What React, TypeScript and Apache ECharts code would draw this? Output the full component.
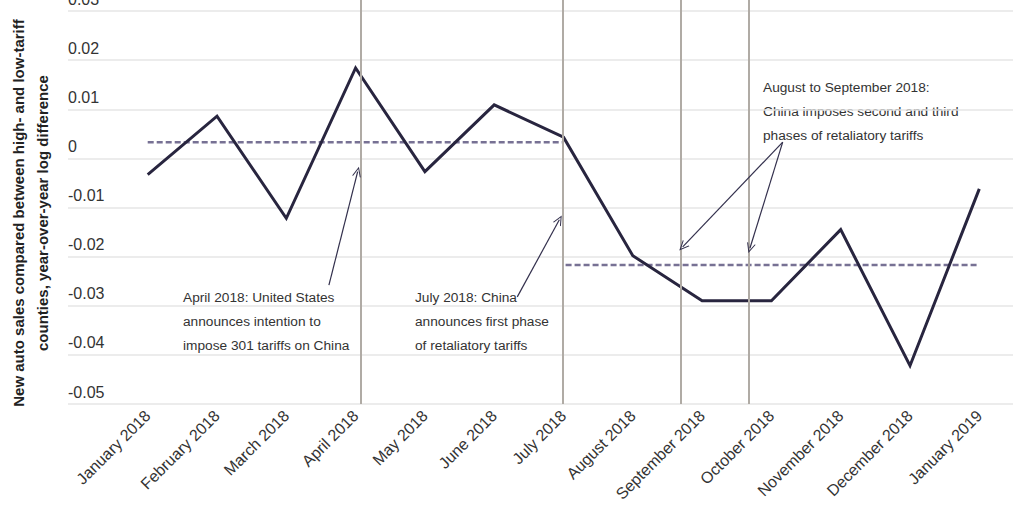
import React, { useEffect, useRef } from "react";
import * as echarts from "echarts";

const categories = [
  "January 2018", "February 2018", "March 2018", "April 2018", "May 2018", "June 2018",
  "July 2018", "August 2018", "September 2018", "October 2018", "November 2018",
  "December 2018", "January 2019",
];
const salesDiff = [
  -0.0033, 0.0086, -0.0122, 0.0184, -0.0027, 0.0109, 0.0043, -0.0198, -0.029, -0.029,
  -0.0145, -0.0422, -0.0062,
];
const avgStart = [0, 6.03];
const avgEnd = [6, 12];
const avgValue = [0.0033, -0.0217];
const eventMonths = [3.08, 5.99, 7.69, 8.68];
const yMin = -0.05;
const yMax = 0.03;
const yStep = 0.01;

const arrows = [
  { from: [2.615, -0.0258], to: [3.03, -0.0027] },
  { from: [5.333, -0.0282], to: [5.94, -0.0125] },
  { from: [9.163, 0.0033], to: [7.72, -0.018] },
  { from: [9.163, 0.0033], to: [8.69, -0.0183] },
];

const notes = [
  { x: 183, y: 297, lines: ["April 2018: United States", "announces intention to", "impose 301 tariffs on China"] },
  { x: 415, y: 297, lines: ["July 2018: China", "announces first phase", "of retaliatory tariffs"] },
  { x: 763, y: 87, lines: ["August to September 2018:", "China imposes second and third", "phases of retaliatory tariffs"] },
];

const chevron = "path://M0,10 L5,0 L10,10 L8.8,10 L5,2.4 L1.2,10 Z";

export default function App() {
  const ref = useRef<HTMLDivElement>(null);
  useEffect(() => {
    if (!ref.current) return;
    const chart = echarts.init(ref.current, null, { renderer: "svg" });
    const topExtra = 11 / ((404 - 11) / (yMax - yMin));
    const option: any = {
      animation: false,
      backgroundColor: "#fff",
      grid: [
        { left: 68, right: 11, top: 11, bottom: 108, containLabel: false, outerBoundsMode: "none" },
        { left: 147.7, right: 44.7, top: 0, bottom: 108, containLabel: false, outerBoundsMode: "none" },
      ],
      xAxis: [
        { gridIndex: 0, type: "value", min: 0, max: 1, show: false },
        {
          gridIndex: 1,
          type: "value",
          min: 0,
          max: categories.length - 1,
          interval: 1,
          axisLine: { show: false },
          axisTick: { show: false },
          splitLine: { show: false },
          axisLabel: {
            rotate: 45,
            margin: 9,
            fontSize: 16,
            fontFamily: "Liberation Sans",
            color: "#333",
            formatter: (v: number) => categories[Math.round(v)] ?? "",
          },
        },
      ],
      yAxis: [
        {
          gridIndex: 0,
          type: "value",
          min: yMin,
          max: yMax,
          interval: yStep,
          axisLine: { show: false },
          axisTick: { show: false },
          splitLine: { show: true, lineStyle: { color: "#e6e6e6", width: 1.5 } },
          axisLabel: {
            inside: true,
            margin: 0,
            align: "left",
            verticalAlign: "bottom",
            lineHeight: 24,
            fontSize: 16,
            fontFamily: "Liberation Sans",
            color: "#333",
            formatter: (v: number) => {
              const r = Math.round(v * 100) / 100;
              return Math.abs(r) < 1e-9 ? "0" : r.toFixed(2);
            },
          },
        },
        { gridIndex: 1, type: "value", min: yMin, max: yMax + topExtra, show: false },
      ],
      series: [
        {
          type: "line",
          xAxisIndex: 1,
          yAxisIndex: 1,
          data: [],
          silent: true,
          markLine: {
            silent: true,
            symbol: ["none", "none"],
            label: { show: false },
            lineStyle: { type: "solid", color: "#b0aba5", width: 2 },
            data: eventMonths.map((m) => ({ xAxis: m })),
          },
        },
        ...avgValue.map((v, i) => ({
          type: "line",
          xAxisIndex: 1,
          yAxisIndex: 1,
          data: [
            [avgStart[i], v],
            [avgEnd[i], v],
          ],
          symbol: "none",
          silent: true,
          lineStyle: { color: "#777194", width: 2.5, type: [6, 3] },
        })),
        {
          type: "line",
          xAxisIndex: 1,
          yAxisIndex: 1,
          data: salesDiff.map((v, i) => [i, v]),
          symbol: "none",
          silent: true,
          lineStyle: { color: "#28253f", width: 3, join: "miter" },
        },
        {
          type: "line",
          xAxisIndex: 1,
          yAxisIndex: 1,
          data: [],
          silent: true,
          markLine: {
            silent: true,
            symbol: ["none", chevron],
            symbolSize: [9, 10],
            label: { show: false },
            lineStyle: { type: "solid", color: "#33304d", width: 1.2 },
            itemStyle: { color: "#33304d" },
            data: arrows.map((a) => [{ coord: a.from }, { coord: a.to }]),
          },
        },
      ],
      graphic: [
        {
          type: "text",
          x: 30,
          y: 213,
          rotation: Math.PI / 2,
          style: {
            text: "New auto sales compared between high- and low-tariff\ncounties, year-over-year log difference",
            align: "center",
            verticalAlign: "middle",
            fontSize: 15,
            fontWeight: "bold",
            fontFamily: "Liberation Sans",
            lineHeight: 24,
            fill: "#222",
          },
        },
        ...notes.map((n) => ({
          type: "text",
          x: n.x,
          y: n.y - 12,
          style: {
            text: n.lines.join("\n"),
            align: "left",
            verticalAlign: "top",
            fontSize: 13.7,
            fontFamily: "Liberation Sans",
            lineHeight: 24,
            fill: "#333",
          },
        })),
      ],
    };
    chart.setOption(option);
    return () => chart.dispose();
  }, []);
  return (
    <div
      ref={ref}
      style={{ position: "fixed", left: 0, top: 0, width: 1024, height: 512, background: "#fff" }}
    />
  );
}
